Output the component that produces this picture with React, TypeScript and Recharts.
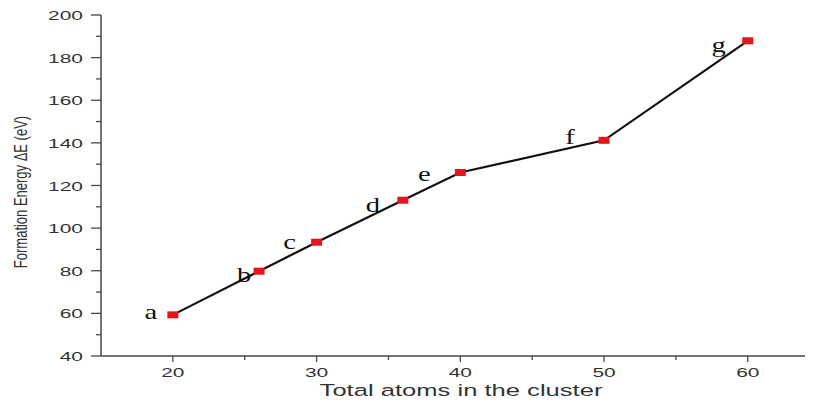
import { LineChart, Line, XAxis, YAxis, LabelList, Label } from 'recharts';

// cluster size vs. formation energy
const atoms = [20, 26, 30, 36, 40, 50, 60];
const energy = [59.3, 79.8, 93.4, 113.1, 126.1, 141.2, 187.9];
const clusterTags = ['a', 'b', 'c', 'd', 'e', 'f', 'g'];

const xTicks = [20, 25, 30, 35, 40, 45, 50, 55, 60];
const yTicks = [40, 50, 60, 70, 80, 90, 100, 110, 120, 130, 140, 150, 160, 170, 180, 190, 200];

const data = atoms.map((n, i) => ({ atoms: n, energy: energy[i], tag: clusterTags[i] }));

// where each letter sits relative to its marker (dx, baseline dy)
const tagOffset: [number, number][] = [
  [-22, 4],
  [-15, 11],
  [-27, 7],
  [-30, 12],
  [-36, 9],
  [-34, 4],
  [-29, 11],
];

const STRETCH = 1.55;
const AXIS = '#474747';
const TEXT = '#333';
const SANS = '"Liberation Sans", Arial, sans-serif';
const SERIF = '"Liberation Serif", "Times New Roman", serif';

function XTick({ x, y, payload }: any) {
  const major = payload.value % 10 === 0;
  return (
    <g>
      <line x1={x} x2={x} y1={y} y2={y + (major ? 6 : 4)} stroke={AXIS} strokeWidth={1.3} />
      {major && (
        <text
          transform={`translate(${x},${y + 21}) scale(${STRETCH},1)`}
          textAnchor="middle"
          fontSize={13.5}
          fontFamily={SANS}
          fill={TEXT}
        >
          {payload.value}
        </text>
      )}
    </g>
  );
}

function YTick({ x, y, payload }: any) {
  const major = payload.value % 20 === 0;
  return (
    <g>
      <line x1={x - (major ? 10 : 5)} x2={x} y1={y} y2={y} stroke={AXIS} strokeWidth={1.3} />
      {major && (
        <text
          transform={`translate(${x - 18},${y + 5}) scale(${STRETCH},1)`}
          textAnchor="end"
          fontSize={13.5}
          fontFamily={SANS}
          fill={TEXT}
        >
          {payload.value}
        </text>
      )}
    </g>
  );
}

function Marker({ cx, cy }: any) {
  if (cx == null || cy == null) return null;
  return <rect x={cx - 5.5} y={cy - 3.5} width={11} height={7} fill="#e3151d" />;
}

function TagLabel({ x, y, value, index }: any) {
  const [dx, dy] = tagOffset[index] ?? [0, 0];
  return (
    <text
      transform={`translate(${x + dx},${y + dy}) scale(1.3,1)`}
      textAnchor="middle"
      fontSize={22}
      fontFamily={SERIF}
      fill="#111"
    >
      {value}
    </text>
  );
}

export default function App() {
  return (
    <LineChart
      width={805}
      height={397}
      data={data}
      margin={{ top: 7, right: 2, left: 0, bottom: 0 }}
    >
      <XAxis
        dataKey="atoms"
        type="number"
        domain={[15, 64.4]}
        ticks={xTicks}
        tick={<XTick />}
        tickSize={0}
        tickMargin={0}
        tickLine={false}
        axisLine={{ stroke: AXIS, strokeWidth: 1.5 }}
        height={49}
        interval={0}
      >
        <Label
          content={() => (
            <text
              transform={`translate(453,388) scale(${STRETCH},1)`}
              textAnchor="middle"
              fontSize={16.5}
              fontFamily={SANS}
              fill={TEXT}
            >
              Total atoms in the cluster
            </text>
          )}
        />
      </XAxis>
      <YAxis
        type="number"
        domain={[40, 200]}
        ticks={yTicks}
        tick={<YTick />}
        tickSize={0}
        tickMargin={0}
        tickLine={false}
        axisLine={{ stroke: AXIS, strokeWidth: 1.5 }}
        width={93}
        interval={0}
      >
        <Label
          content={() => (
            <text
              transform="translate(19,184) scale(1.4,1) rotate(-90)"
              textAnchor="middle"
              fontSize={13}
              fontFamily={SANS}
              fill={TEXT}
            >
              Formation Energy ΔE (eV)
            </text>
          )}
        />
      </YAxis>
      <Line
        dataKey="energy"
        type="linear"
        stroke="#111"
        strokeWidth={2.2}
        dot={<Marker />}
        activeDot={false}
        isAnimationActive={false}
      >
        <LabelList dataKey="tag" content={<TagLabel />} />
      </Line>
    </LineChart>
  );
}
